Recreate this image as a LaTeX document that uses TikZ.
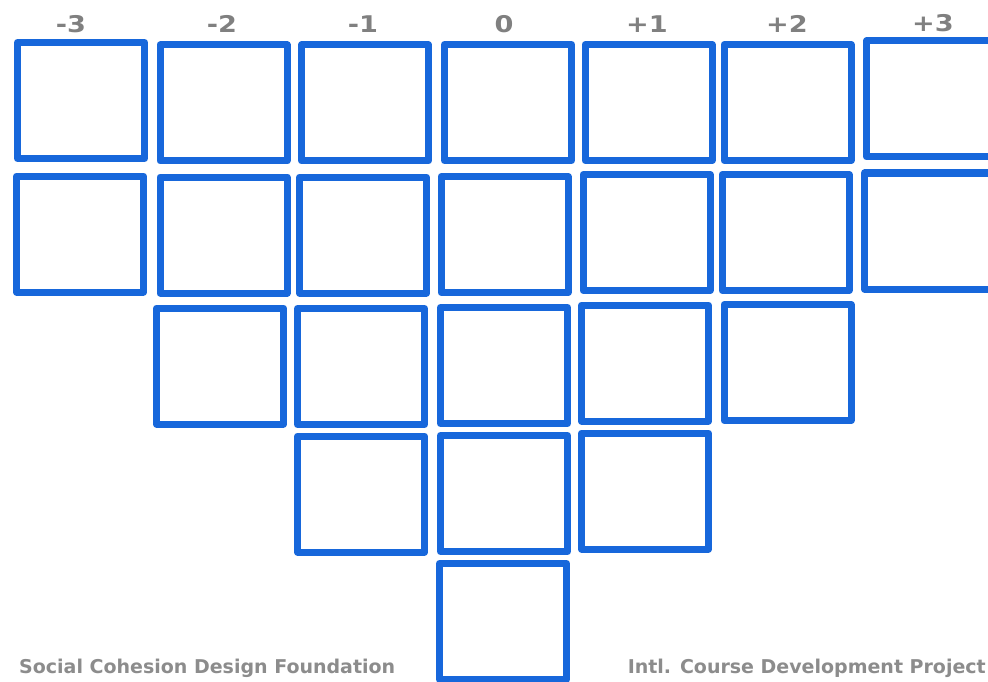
\documentclass[tikz,border=0pt]{standalone}
\usepackage{fontspec}
\setmainfont{DejaVu Sans}
\newfontfamily\lblfont[FakeStretch=1.18]{DejaVu Sans Bold}
\newfontfamily\footfont{DejaVu Sans Bold}
\definecolor{cellblue}{RGB}{23,103,219}
\definecolor{lblgray}{RGB}{128,128,128}
\definecolor{footgray}{RGB}{140,140,140}
\begin{document}
\begin{tikzpicture}[x=1pt,y=-1pt,
  cell/.style={draw=cellblue, line width=7pt, line join=round, fill=white,
    inner sep=0pt, minimum width=127pt, minimum height=116pt},
  collabel/.style={anchor=base, text=lblgray, inner sep=0pt,
    font=\lblfont\fontsize{23pt}{23pt}\selectfont},
  footer/.style={text=footgray, inner sep=0pt,
    font=\footfont\fontsize{19pt}{19pt}\selectfont}]
\useasboundingbox[fill=white] (0,0) rectangle (988,682);
% column labels
\node[collabel] (lm3) at (71,33) {-3};
\node[collabel] (lm2) at (222,33) {-2};
\node[collabel] (lm1) at (363,33) {-1};
\node[collabel] (l0) at (504,33) {0};
\node[collabel] (lp1) at (647,33) {+1};
\node[collabel] (lp2) at (787,33) {+2};
\node[collabel] (lp3) at (933,32) {+3};
% row 1
\node[cell] (r1m3) at (81,100.5) {};
\node[cell] (r1m2) at (223.5,103) {};
\node[cell] (r1m1) at (365,103) {};
\node[cell] (r10) at (508,102.5) {};
\node[cell] (r1p1) at (648.5,102.5) {};
\node[cell] (r1p2) at (787.5,102.5) {};
\node[cell] (r1p3) at (930,99) {};
% row 2
\node[cell] (r2m3) at (80,234) {};
\node[cell] (r2m2) at (223.5,235) {};
\node[cell] (r2m1) at (363,235) {};
\node[cell] (r20) at (504.5,234.5) {};
\node[cell] (r2p1) at (646.5,232.5) {};
\node[cell] (r2p2) at (785.5,232.5) {};
\node[cell] (r2p3) at (928,231) {};
% row 3
\node[cell] (r3m2) at (220,366) {};
\node[cell] (r3m1) at (361,366.5) {};
\node[cell] (r30) at (504,365.5) {};
\node[cell] (r3p1) at (645,363) {};
\node[cell] (r3p2) at (787.5,362.5) {};
% row 4
\node[cell] (r4m1) at (361,494) {};
\node[cell] (r40) at (504,493.5) {};
\node[cell] (r4p1) at (645,491) {};
% row 5
\node[cell] (r50) at (503,621.5) {};
% footers
\node[footer, anchor=base west] (fl) at (19,673) {Social Cohesion Design Foundation};
\node[footer, anchor=base east] (fr) at (986,673) {Intl. Course Development Project};
\end{tikzpicture}
\end{document}
